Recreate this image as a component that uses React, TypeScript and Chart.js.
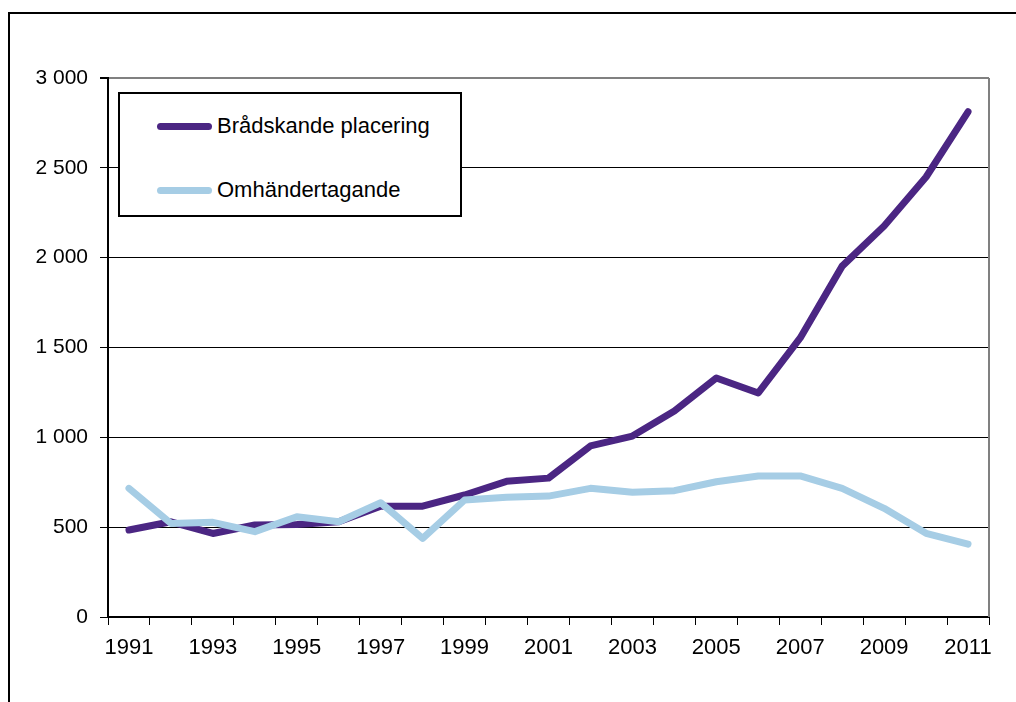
import React, { useEffect, useRef } from "react";
import { Chart, registerables } from "chart.js";

Chart.register(...registerables);

const years = ["1991","1992","1993","1994","1995","1996","1997","1998","1999","2000","2001","2002","2003","2004","2005","2006","2007","2008","2009","2010","2011"];
const bradskande = [484, 530, 465, 512, 515, 530, 617, 617, 679, 755, 773, 952, 1007, 1146, 1330, 1247, 1553, 1953, 2176, 2449, 2812];
const omhandertagande = [716, 521, 527, 475, 558, 530, 636, 438, 651, 666, 673, 716, 694, 703, 753, 785, 785, 716, 605, 466, 405];
const seriesNames = ["Brådskande placering", "Omhändertagande"];
const seriesColors = ["#4B2683", "#A6CDE5"];
const yTickLabels: Record<number, string> = { 0: "0", 500: "500", 1000: "1 000", 1500: "1 500", 2000: "2 000", 2500: "2 500", 3000: "3 000" };

const FONT = "'Liberation Sans', Arial, sans-serif";

const frame = {
  id: "frame",
  afterDraw(chart: any) {
    const { ctx, chartArea } = chart;
    ctx.save();
    ctx.strokeStyle = "#808080";
    ctx.lineWidth = 2;
    ctx.beginPath();
    ctx.moveTo(chartArea.right, chartArea.top);
    ctx.lineTo(chartArea.right, chartArea.bottom);
    ctx.stroke();
    ctx.restore();
  },
};

export default function App() {
  const ref = useRef<HTMLCanvasElement | null>(null);
  useEffect(() => {
    if (!ref.current) return;
    const chart = new Chart(ref.current, {
      type: "line",
      data: {
        labels: years,
        datasets: [
          {
            label: seriesNames[1],
            data: omhandertagande,
            borderColor: seriesColors[1],
            backgroundColor: seriesColors[1],
            borderWidth: 7,
            pointRadius: 0,
            borderCapStyle: "round",
            borderJoinStyle: "round",
            tension: 0,
          },
          {
            label: seriesNames[0],
            data: bradskande,
            borderColor: seriesColors[0],
            backgroundColor: seriesColors[0],
            borderWidth: 7,
            pointRadius: 0,
            borderCapStyle: "round",
            borderJoinStyle: "round",
            tension: 0,
          },
        ],
      },
      options: {
        animation: false,
        responsive: false,
        maintainAspectRatio: false,
        layout: { padding: { left: 0, right: 27, top: 78, bottom: 0 } },
        plugins: { legend: { display: false }, tooltip: { enabled: false } },
        scales: {
          x: {
            offset: true,
            grid: { offset: true, drawOnChartArea: false, drawTicks: true, tickLength: 8, color: "#000", lineWidth: 1 },
            border: { color: "#000", width: 2 },
            ticks: {
              autoSkip: false,
              maxRotation: 0,
              padding: 10,
              color: "#000",
              font: { family: FONT, size: 22 },
              callback: (_v: any, i: number) => (i % 2 === 0 ? years[i] : ""),
            },
            afterFit: (s: any) => { s.height = 85; },
          },
          y: {
            min: 0,
            max: 3000,
            grid: {
              color: (c: any) => (c.tick && c.tick.value === 3000 ? "#808080" : "#000"),
              tickColor: "#000",
              lineWidth: (c: any) => (c.tick && c.tick.value === 3000 ? 2 : 1),
              tickLength: 8,
            },
            border: { color: "#000", width: 2 },
            ticks: {
              stepSize: 500,
              padding: 12,
              color: "#000",
              font: { family: FONT, size: 21 },
              callback: (v: any) => yTickLabels[v as number] ?? String(v),
            },
            afterFit: (s: any) => { s.width = 108; },
          },
        },
      },
      plugins: [frame],
    });
    return () => chart.destroy();
  }, []);

  return (
    <div style={{ position: "fixed", left: 0, top: 0, width: 1016, height: 702, background: "#fff", overflow: "hidden" }}>
      <canvas ref={ref} width={1016} height={702} style={{ position: "absolute", left: 0, top: 0 }} />
      <div style={{ position: "absolute", left: 8, top: 12, width: 1100, height: 800, borderTop: "2px solid #000", borderLeft: "2px solid #000", pointerEvents: "none" }} />
      <div
        style={{
          position: "absolute",
          left: 118,
          top: 92,
          width: 340,
          height: 121,
          border: "2px solid #000",
          background: "#fff",
          fontFamily: FONT,
          fontSize: 22,
          color: "#000",
        }}
      >
        {seriesNames.map((name, i) => (
          <div key={name} style={{ position: "absolute", left: 37, top: i === 0 ? 19 : 83, height: 26, display: "flex", alignItems: "center", whiteSpace: "nowrap" }}>
            <span style={{ display: "inline-block", width: 55, height: 7, borderRadius: 4, background: seriesColors[i], marginRight: 5 }} />
            <span>{name}</span>
          </div>
        ))}
      </div>
    </div>
  );
}
